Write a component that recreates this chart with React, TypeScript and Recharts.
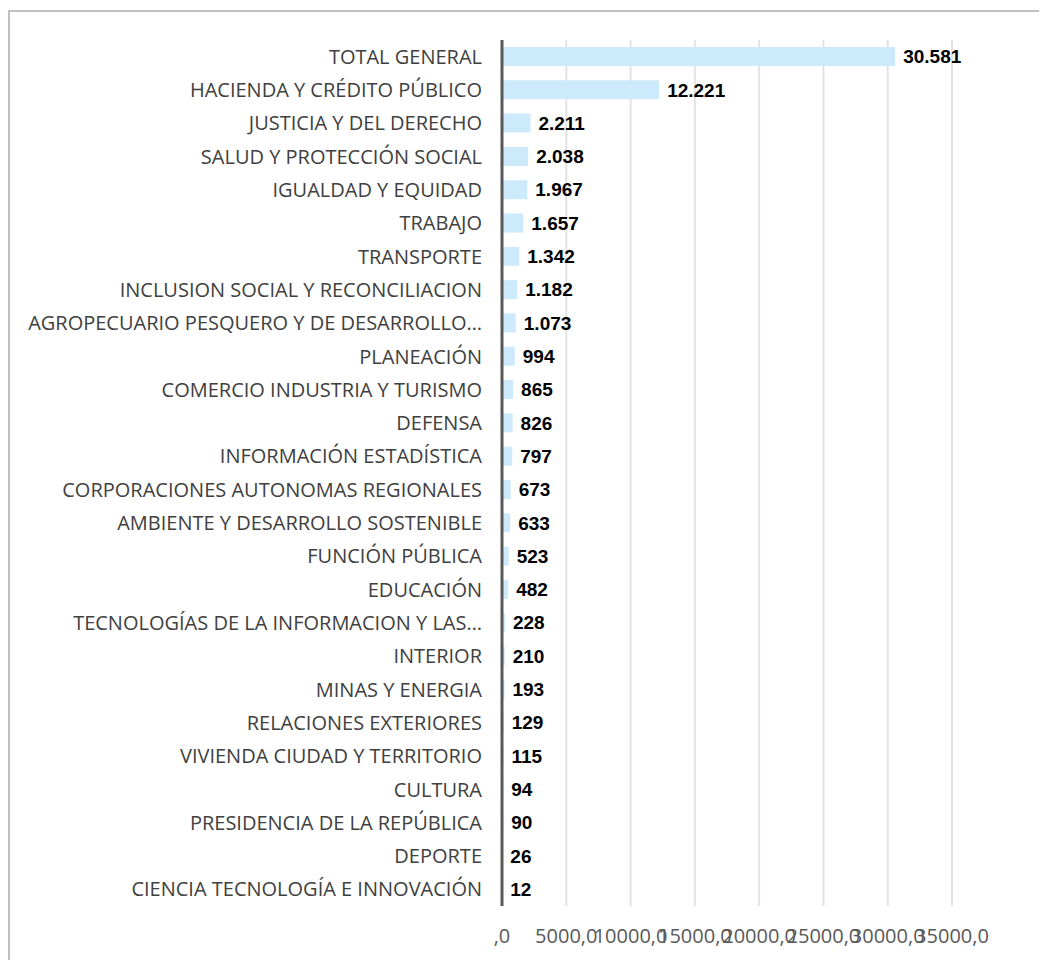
import React from "react";
import {
    BarChart,
    Bar,
    XAxis,
    YAxis,
    CartesianGrid,
    LabelList,
} from "recharts";

const categories = [
    "TOTAL GENERAL",
    "HACIENDA Y CRÉDITO PÚBLICO",
    "JUSTICIA Y DEL DERECHO",
    "SALUD Y PROTECCIÓN SOCIAL",
    "IGUALDAD Y EQUIDAD",
    "TRABAJO",
    "TRANSPORTE",
    "INCLUSION SOCIAL Y RECONCILIACION",
    "AGROPECUARIO PESQUERO Y DE DESARROLLO…",
    "PLANEACIÓN",
    "COMERCIO INDUSTRIA Y TURISMO",
    "DEFENSA",
    "INFORMACIÓN ESTADÍSTICA",
    "CORPORACIONES AUTONOMAS REGIONALES",
    "AMBIENTE Y DESARROLLO SOSTENIBLE",
    "FUNCIÓN PÚBLICA",
    "EDUCACIÓN",
    "TECNOLOGÍAS DE LA INFORMACION Y LAS…",
    "INTERIOR",
    "MINAS Y ENERGIA",
    "RELACIONES EXTERIORES",
    "VIVIENDA CIUDAD Y TERRITORIO",
    "CULTURA",
    "PRESIDENCIA DE LA REPÚBLICA",
    "DEPORTE",
    "CIENCIA TECNOLOGÍA E INNOVACIÓN",
];

const values = [
    30581, 12221, 2211, 2038, 1967, 1657, 1342, 1182, 1073, 994, 865, 826, 797,
    673, 633, 523, 482, 228, 210, 193, 129, 115, 94, 90, 26, 12,
];

const xTicks = [0, 5000, 10000, 15000, 20000, 25000, 30000, 35000];

const data = categories.map((name, i) => ({ name, value: values[i] }));

// miles con punto: 30581 -> 30.581
const fmtValue = (v: number) =>
    String(v).replace(/\B(?=(\d{3})+(?!\d))/g, ".");

const fmtTick = (v: number) => (v === 0 ? ",0" : `${v},0`);

export default function App() {
    return (
        <div
            style={{
                position: "relative",
                width: 1039,
                height: 952,
                overflow: "hidden",
            }}
        >
            <div
                style={{
                    position: "absolute",
                    left: 0,
                    top: 2,
                    width: 1100,
                    height: 1000,
                    borderTop: "2px solid #c0c0c0",
                    borderLeft: "2px solid #c0c0c0",
                    boxSizing: "border-box",
                }}
            />
            <BarChart
                width={1039}
                height={952}
                layout="vertical"
                data={data}
                margin={{ top: 32, right: 95, left: 0, bottom: 0 }}
                barSize={19}
                style={{ position: "absolute", left: 0, top: 0 }}
            >
                <CartesianGrid
                    horizontal={false}
                    stroke="#e3e3e3"
                    strokeWidth={2}
                />
                <XAxis
                    type="number"
                    domain={[0, 35000]}
                    ticks={xTicks}
                    tickFormatter={fmtTick}
                    axisLine={false}
                    tickLine={false}
                    tickMargin={17}
                    height={54}
                    interval={0}
                    tick={{
                        fontSize: 20,
                        fill: "#595959",
                        fontFamily: "Open Sans",
                    }}
                />
                <YAxis
                    type="category"
                    dataKey="name"
                    width={494}
                    interval={0}
                    tickLine={false}
                    tickMargin={14}
                    axisLine={{ stroke: "#595959", strokeWidth: 3 }}
                    tick={{
                        fontSize: 20,
                        fill: "#404040",
                        fontFamily: "Open Sans",
                    }}
                />
                <Bar
                    dataKey="value"
                    fill="#cdeafc"
                    isAnimationActive={false}
                >
                    <LabelList
                        dataKey="value"
                        position="right"
                        offset={8}
                        formatter={(v: any) => fmtValue(Number(v))}
                        style={{
                            fill: "#000",
                            fontWeight: "bold",
                            fontSize: 19,
                            fontFamily: "Liberation Sans",
                        }}
                    />
                </Bar>
            </BarChart>
        </div>
    );
}
